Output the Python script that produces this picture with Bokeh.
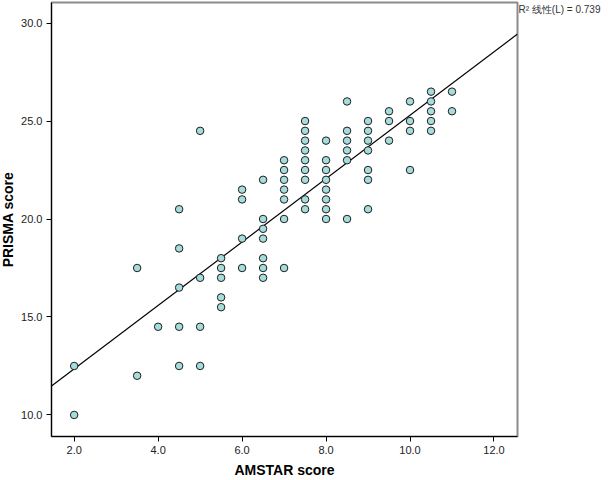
import numpy as np
from bokeh.plotting import figure
from bokeh.models import FixedTicker, PrintfTickFormatter, Range1d, LinearAxis
from bokeh.embed import file_html
from bokeh.resources import INLINE

# AMSTAR score -> list of PRISMA scores
amstar_levels = [2.0, 3.5, 4.0, 4.5, 5.0, 5.5, 6.0, 6.5, 7.0, 7.5, 8.0, 8.5, 9.0, 9.5, 10.0, 10.5, 11.0]
prisma_by_level = [
    [12.5, 10.0],
    [17.5, 12.0],
    [14.5],
    [20.5, 18.5, 16.5, 14.5, 12.5],
    [24.5, 17.0, 14.5, 12.5],
    [18.0, 17.5, 17.0, 16.0, 15.5],
    [21.5, 21.0, 19.0, 17.5],
    [22.0, 20.0, 19.5, 19.0, 18.0, 17.5, 17.0],
    [23.0, 22.5, 22.0, 21.5, 21.0, 20.0, 17.5],
    [25.0, 24.5, 24.0, 23.5, 23.0, 22.5, 22.0, 21.0, 20.5],
    [24.0, 23.0, 22.5, 22.0, 21.5, 21.0, 20.5, 20.0],
    [26.0, 24.5, 24.0, 23.5, 23.0, 20.0],
    [25.0, 24.5, 24.0, 23.5, 22.5, 22.0, 20.5],
    [25.5, 25.0, 24.0],
    [26.0, 25.0, 24.5, 22.5],
    [26.5, 26.0, 25.5, 25.0, 24.5],
    [26.5, 25.5],
]
x_ticks = [2, 4, 6, 8, 10, 12]
y_ticks = [10, 15, 20, 25, 30]
r2_text = "R² 线性(L) = 0.739"

amstar = []
prisma = []
for lv, ys in zip(amstar_levels, prisma_by_level):
    for yv in ys:
        amstar.append(lv)
        prisma.append(yv)
amstar = np.array(amstar)
prisma = np.array(prisma)

X0, X1 = 1.46, 12.56
Y0, Y1 = 8.90, 31.05

SHIFT = 7  # figure slid left so the y-axis label sits near the page edge
p = figure(width=608 + SHIFT, height=480, output_backend="svg", toolbar_location=None,
           x_range=Range1d(X0, X1), y_range=Range1d(Y0, Y1),
           min_border_left=51 + SHIFT, min_border_right=91, min_border_top=2, min_border_bottom=43,
           styles={"margin-left": f"-{SHIFT}px"})
p.background_fill_color = "white"
p.border_fill_color = "white"
p.outline_line_color = "#8c8c8c"
p.outline_line_width = 2
p.xgrid.visible = False
p.ygrid.visible = False

for ax in (p.xaxis[0], p.yaxis[0]):
    ax.axis_line_color = "black"
    ax.axis_line_width = 1
    ax.major_tick_line_color = "black"
    ax.major_tick_out = 5
    ax.major_tick_in = 0
    ax.minor_tick_line_color = None
    ax.major_label_text_font = "Liberation Sans"
    ax.major_label_text_font_size = "11px"
    ax.major_label_text_color = "#222222"
    ax.axis_label_text_font = "Liberation Sans"
    ax.axis_label_text_font_style = "bold"
    ax.axis_label_text_font_size = "14px"
    ax.axis_label_text_color = "black"
    ax.formatter = PrintfTickFormatter(format="%.1f")

p.xaxis[0].ticker = FixedTicker(ticks=x_ticks)
p.yaxis[0].ticker = FixedTicker(ticks=y_ticks)
p.xaxis[0].axis_label = "AMSTAR score"
p.yaxis[0].axis_label = "PRISMA score"
p.xaxis[0].major_label_standoff = 4
p.xaxis[0].axis_label_standoff = 5
p.yaxis[0].major_label_standoff = 4
p.yaxis[0].axis_label_standoff = 2

# R² annotation, drawn as the single tick label of a bare right-hand axis
r2_pos = 30.7
r2_axis = LinearAxis(ticker=FixedTicker(ticks=[r2_pos]),
                     major_label_overrides={r2_pos: r2_text},
                     axis_line_color=None, major_tick_line_color=None,
                     minor_tick_line_color=None, major_tick_out=0, major_tick_in=0,
                     major_label_standoff=1,
                     major_label_text_font="Liberation Sans",
                     major_label_text_font_size="10px",
                     major_label_text_color="#333333")
p.add_layout(r2_axis, "right")

# regression line (least squares)
slope, intercept = np.polyfit(amstar, prisma, 1)
lx = np.array([X0, X1])
p.line(lx, intercept + slope * lx, line_color="black", line_width=1.2)

p.scatter(amstar, prisma, marker="circle", size=7.5, fill_color="#a6dcdc",
          line_color="#1e1e1e", line_width=1)

open("out.html", "w").write(file_html(p, INLINE))
